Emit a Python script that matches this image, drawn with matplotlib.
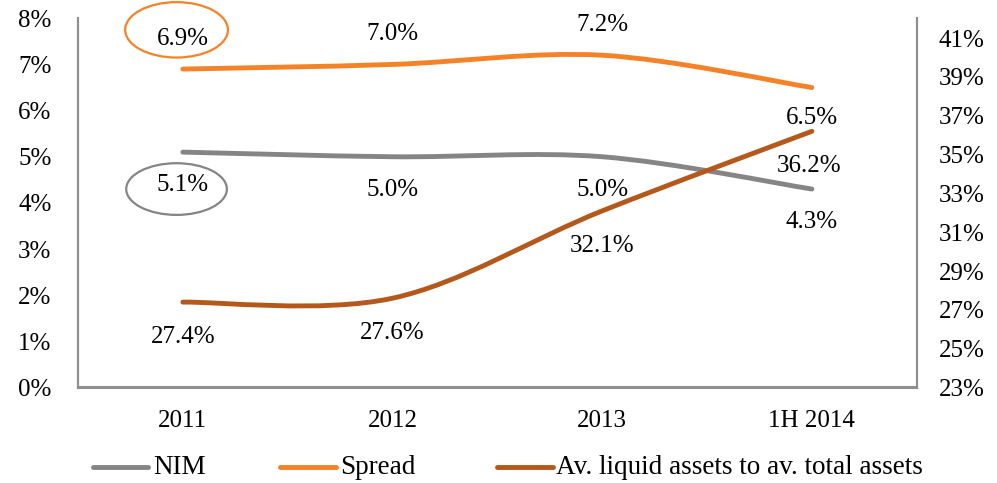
import numpy as np
import matplotlib
matplotlib.use("Agg")
import matplotlib.pyplot as plt
from matplotlib.path import Path
from matplotlib.patches import PathPatch, Ellipse
from matplotlib.lines import Line2D
from matplotlib.ticker import FuncFormatter

plt.rcParams['font.family'] = ['Liberation Serif', 'DejaVu Serif']

# data
categories = ['2011', '2012', '2013', '1H 2014']
nim = [5.1, 5.0, 5.0, 4.3]
spread = [6.9, 7.0, 7.2, 6.5]
liquid = [27.4, 27.6, 32.1, 36.2]
series_names = ['NIM', 'Spread', 'Av. liquid assets to av. total assets']

c_nim = '#858585'
c_spread = '#F58226'
c_liquid = '#B5581B'
c_axis = '#8f8f8f'


def smooth_path(xs, ys):
    # Excel-like smoothed line: Catmull-Rom segments as cubic Beziers
    p = np.column_stack([xs, ys]).astype(float)
    ext = np.vstack([p[0], p, p[-1]])
    verts = [p[0]]
    codes = [Path.MOVETO]
    for i in range(len(p) - 1):
        p0, p1, p2, p3 = ext[i], ext[i + 1], ext[i + 2], ext[i + 3]
        verts += [p1 + (p2 - p0) / 6, p2 - (p3 - p1) / 6, p2]
        codes += [Path.CURVE4] * 3
    return Path(verts, codes)


fig = plt.figure(figsize=(9.97, 4.83), dpi=100)
ax = fig.add_axes([78 / 997, 1 - 387.5 / 483, (916.7 - 78) / 997, (387.5 - 18.3) / 483])
ax2 = ax.twinx()

x = np.arange(len(categories)) + 0.5

for vals, col, a in [(nim, c_nim, ax), (spread, c_spread, ax), (liquid, c_liquid, ax2)]:
    a.add_patch(PathPatch(smooth_path(x, vals), fill=False, edgecolor=col,
                          lw=3.5, capstyle='round', joinstyle='round'))

ax.set_xlim(0, 4)
ax.set_ylim(0, 8)
ax2.set_ylim(23, 23 + 8 * 18 / 7.57)
ax.set_yticks(range(0, 9))
ax2.set_yticks(range(23, 42, 2))
ax.yaxis.set_major_formatter(FuncFormatter(lambda v, p: f'{v:.0f}%'))
ax2.yaxis.set_major_formatter(FuncFormatter(lambda v, p: f'{v:.0f}%'))
ax.set_xticks(x)
ax.set_xticklabels(categories)

ax.tick_params(axis='y', length=0, pad=19, labelsize=18)
ax2.tick_params(axis='y', length=0, pad=16, labelsize=18)
ax.tick_params(axis='x', length=0, pad=16, labelsize=18)

for a in (ax, ax2):
    a.spines['top'].set_visible(False)
    for s in ('left', 'right', 'bottom'):
        a.spines[s].set_color(c_axis)
        a.spines[s].set_linewidth(1.5)

# data labels
fs = 18
for xi, v in zip(x, spread):
    off = -22 if xi == x[-1] else 22
    ax.annotate(f'{v:.1f}%', (xi, v), xytext=(0, off), textcoords='offset points',
                ha='center', va='center', fontsize=fs)
for xi, v in zip(x, nim):
    ax.annotate(f'{v:.1f}%', (xi, v), xytext=(0, -24), textcoords='offset points',
                ha='center', va='center', fontsize=fs)
for xi, v in zip(x, liquid):
    ax2.annotate(f'{v:.1f}%', (xi, v), xytext=(-2 if xi == x[-1] else 0, -25),
                 textcoords='offset points', ha='center', va='center', fontsize=fs)

# highlight circles
ax.add_patch(Ellipse((0.47, 7.75), 0.49, 1.2, fill=False, edgecolor=c_spread,
                     lw=1.6, clip_on=False))
ax.add_patch(Ellipse((0.47, 4.3), 0.48, 1.12, fill=False, edgecolor=c_nim,
                     lw=1.6, clip_on=False))

# legend
leg_y = 1 - 467 / 483
items = [(93, 148, 153), (280, 336, 340), (497, 553, 556)]
for (x0, x1, xt), name, col in zip(items, series_names, [c_nim, c_spread, c_liquid]):
    fig.add_artist(Line2D([x0 / 997, x1 / 997], [leg_y, leg_y], color=col, lw=3.5,
                          solid_capstyle='round', transform=fig.transFigure))
    fig.text(xt / 997, leg_y, name, ha='left', va='center', fontsize=19.5)

fig.savefig('out.png', dpi=100)
